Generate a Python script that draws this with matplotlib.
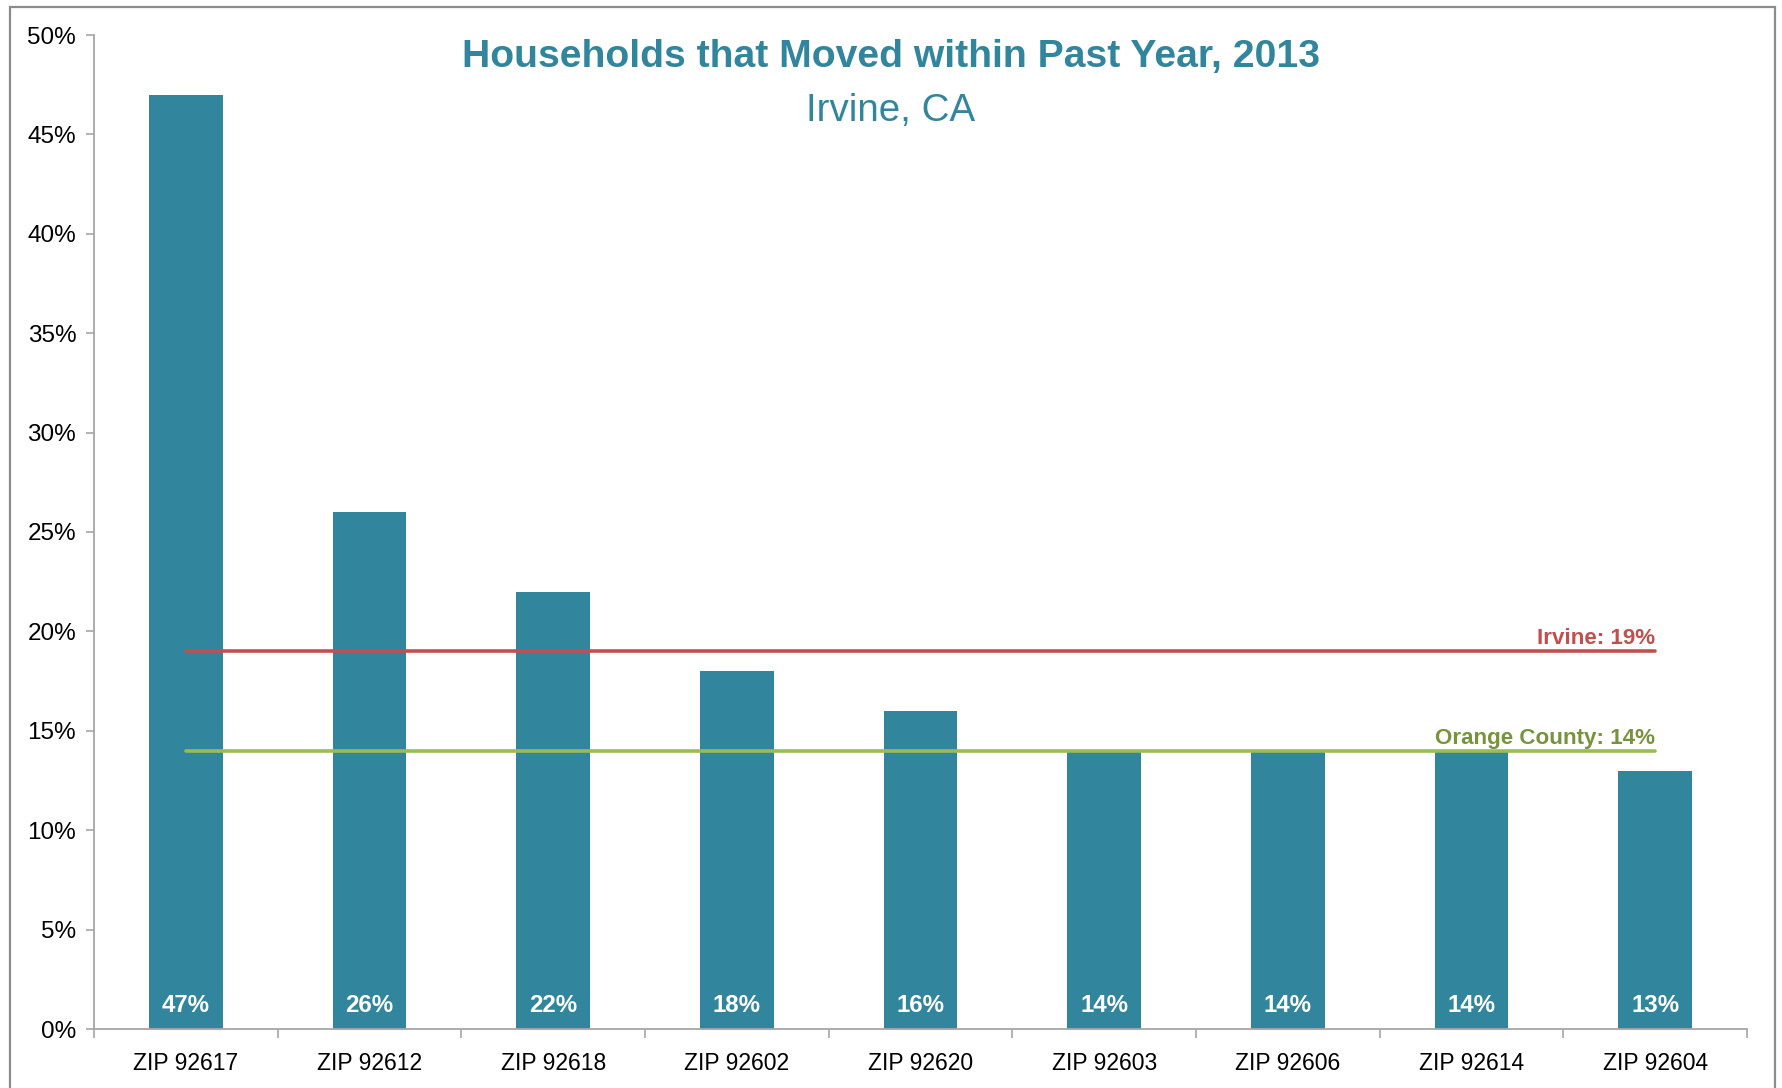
import matplotlib
matplotlib.use("Agg")
import matplotlib.pyplot as plt
from matplotlib.patches import Rectangle
from matplotlib.ticker import MultipleLocator, FixedLocator, PercentFormatter
from matplotlib import font_manager

categories = ["ZIP 92617", "ZIP 92612", "ZIP 92618", "ZIP 92602", "ZIP 92620",
              "ZIP 92603", "ZIP 92606", "ZIP 92614", "ZIP 92604"]
values = [47, 26, 22, 18, 16, 14, 14, 14, 13]
irvine_value = 19
oc_value = 14
title = "Households that Moved within Past Year, 2013"
subtitle = "Irvine, CA"

names = {f.name for f in font_manager.fontManager.ttflist}
has_narrow = "Liberation Sans Narrow" in names
narrow = "Liberation Sans Narrow" if has_narrow else "Liberation Sans"
regular = "Liberation Sans" if "Liberation Sans" in names else "DejaVu Sans"
k = 1.0 if has_narrow else 0.91

BAR = "#31859C"
RED = "#C0504D"
GREEN = "#9BBB59"
GREEN_TXT = "#77933C"
AXIS = "#A6A6A6"

fig = plt.figure(figsize=(17.82, 10.88), dpi=100)
ax = fig.add_axes([94/1782, 1-1029/1088, (1747-94)/1782, (1029-35)/1088])

x = list(range(len(categories)))
ax.bar(x, values, width=0.4, color=BAR, zorder=2)

for xi, v in zip(x, values):
    ax.annotate(f"{v}%", xy=(xi, 0), xytext=(0, 12), textcoords="offset points",
                ha="center", va="baseline", color="white", fontsize=19 * k,
                fontweight="bold", family=[narrow, "DejaVu Sans"], zorder=4)

ax.plot([x[0], x[-1]], [irvine_value, irvine_value], color=RED, lw=2.6, zorder=3,
        solid_capstyle="round")
ax.plot([x[0], x[-1]], [oc_value, oc_value], color=GREEN, lw=2.6, zorder=3,
        solid_capstyle="round")
ax.annotate(f"Irvine: {irvine_value}%", xy=(x[-1], irvine_value), xytext=(0, 5),
            textcoords="offset points", ha="right", va="baseline", color=RED,
            fontsize=17.7 * k, fontweight="bold", family=[narrow, "DejaVu Sans"], zorder=4)
ax.annotate(f"Orange County: {oc_value}%", xy=(x[-1], oc_value), xytext=(0, 4.5),
            textcoords="offset points", ha="right", va="baseline", color=GREEN_TXT,
            fontsize=17.7 * k, fontweight="bold", family=[narrow, "DejaVu Sans"], zorder=4)

ax.set_xlim(-0.5, len(categories) - 0.5)
ax.set_ylim(0, 50)
ax.yaxis.set_major_locator(MultipleLocator(5))
ax.yaxis.set_major_formatter(PercentFormatter(decimals=0))
ax.set_xticks(x)
ax.set_xticklabels(categories)
ax.xaxis.set_minor_locator(FixedLocator([i - 0.5 for i in range(len(categories) + 1)]))
ax.tick_params(axis="x", which="major", length=0, pad=16.5, labelsize=16.5,
               labelcolor="black")
ax.tick_params(axis="x", which="minor", length=6.5, width=1.2, color=AXIS, direction="out")
ax.tick_params(axis="y", which="major", length=5.8, width=1.2, color=AXIS, pad=7,
               labelsize=17.5, labelcolor="black")
for lab in ax.get_xticklabels() + ax.get_yticklabels():
    lab.set_family([regular, "DejaVu Sans"])

for s in ["top", "right"]:
    ax.spines[s].set_visible(False)
for s in ["left", "bottom"]:
    ax.spines[s].set_color(AXIS)
    ax.spines[s].set_linewidth(1.3)

fig.text(0.5, 1-57/1088, title, ha="center", va="center", color=BAR, fontsize=31 * k,
         fontweight="bold", family=[narrow, "DejaVu Sans"])
fig.text(0.5, 1-111/1088, subtitle, ha="center", va="center", color=BAR,
         fontsize=30.5 * k, family=[narrow, "DejaVu Sans"])

fig.patches.append(Rectangle((10/1782, -0.02), (1775-10)/1782, 1-7/1088+0.02,
                             transform=fig.transFigure, fill=False,
                             edgecolor="#8C8C8C", linewidth=1.6))

fig.savefig("out.png", dpi=100)
